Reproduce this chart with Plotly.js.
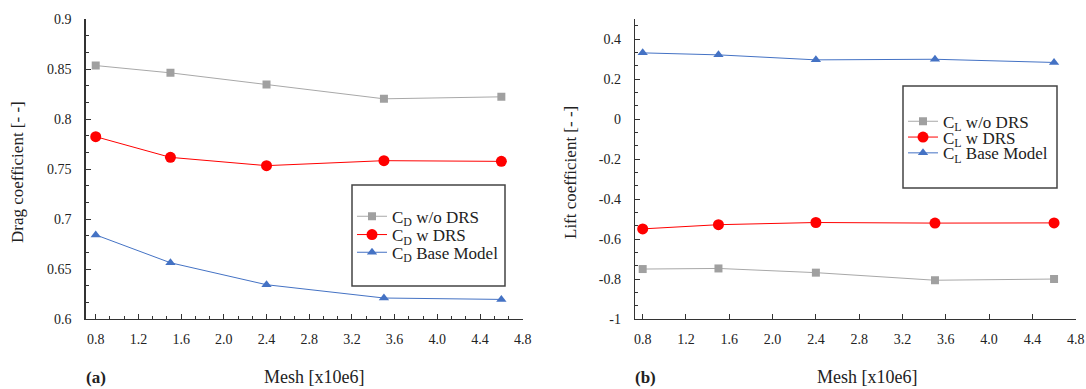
<!DOCTYPE html>
<html>
<head>
<meta charset="utf-8">
<script src="https://cdn.plot.ly/plotly-3.0.1.min.js"></script>
<style>html,body{margin:0;padding:0;background:#fff;}#chart{width:1086px;height:389px;}</style>
</head>
<body>
<div id="chart"></div>
<script>
// ---- data ----
const meshX = [0.8, 1.5, 2.4, 3.5, 4.6];
const cdWithoutDRS = [0.8537, 0.8464, 0.8347, 0.8204, 0.8224];
const cdWithDRS    = [0.7825, 0.7618, 0.7535, 0.7585, 0.7578];
const cdBaseModel  = [0.6842, 0.6563, 0.6343, 0.6210, 0.6196];
const clWithoutDRS = [-0.750, -0.747, -0.768, -0.806, -0.800];
const clWithDRS    = [-0.549, -0.528, -0.517, -0.520, -0.519];
const clBaseModel  = [0.332, 0.322, 0.297, 0.300, 0.284];

const xTickVals = [0.8, 1.2, 1.6, 2.0, 2.4, 2.8, 3.2, 3.6, 4.0, 4.4, 4.8];
const xTickText = ['0.8','1.2','1.6','2.0','2.4','2.8','3.2','3.6','4.0','4.4','4.8'];
const cdTickVals = [0.6, 0.65, 0.7, 0.75, 0.8, 0.85, 0.9];
const cdTickText = ['0.6','0.65','0.7','0.75','0.8','0.85','0.9'];
const clTickVals = [-1, -0.8, -0.6, -0.4, -0.2, 0, 0.2, 0.4];
const clTickText = ['-1','-0.8','-0.6','-0.4','-0.2','0','0.2','0.4'];

const labelsLeft = ['C<sub>D</sub> w/o DRS', 'C<sub>D</sub> w DRS', 'C<sub>D</sub> Base Model'];
const labelsRight = ['C<sub>L</sub> w/o DRS', 'C<sub>L</sub> w DRS', 'C<sub>L</sub> Base Model'];

// ---- styles ----
const W = 1086, H = 389;
const px = v => v / W;
const py = v => 1 - v / H;
const FONT = "'Liberation Serif', 'Times New Roman', serif";
const TXT = '#222';
const styles = [
  {line: {color: '#a8a8a8', width: 1}, marker: {symbol: 'square', size: 8, color: '#a0a0a0'}},
  {line: {color: '#ff0000', width: 1}, marker: {symbol: 'circle', size: 11, color: '#ff0000'}},
  {line: {color: '#4472c4', width: 1}, marker: {symbol: 'triangle-up', size: 9, color: '#4472c4'}}
];

const leftSeries = [cdWithoutDRS, cdWithDRS, cdBaseModel];
const rightSeries = [clWithoutDRS, clWithDRS, clBaseModel];
const leftLegends = ['legend', 'legend3', 'legend4'];
const rightLegends = ['legend2', 'legend5', 'legend6'];
const traces = [];
leftSeries.forEach((ys, i) => traces.push({
  x: meshX, y: ys, name: labelsLeft[i], type: 'scatter', mode: 'lines+markers', showlegend: true,
  xaxis: 'x', yaxis: 'y', legend: leftLegends[i], line: styles[i].line, marker: styles[i].marker
}));
rightSeries.forEach((ys, i) => traces.push({
  x: meshX, y: ys, name: labelsRight[i], type: 'scatter', mode: 'lines+markers', showlegend: true,
  xaxis: 'x2', yaxis: 'y2', legend: rightLegends[i], line: styles[i].line, marker: styles[i].marker
}));

const axisCommon = {
  showgrid: false, zeroline: false, showline: true, linecolor: '#333', linewidth: 1.3,
  ticks: 'inside', ticklen: 5, tickcolor: '#333', tickwidth: 1,
  tickfont: {family: FONT, size: 14, color: TXT}, tickmode: 'array', automargin: false
};

function legendAt(x, y) {
  return {
    x: px(x), y: py(y), xanchor: 'left', yanchor: 'middle',
    bgcolor: 'rgba(0,0,0,0)', borderwidth: 0,
    font: {family: FONT, size: 17, color: TXT}
  };
}

const layout = {
  width: W, height: H,
  margin: {l: 0, r: 0, t: 0, b: 0},
  paper_bgcolor: '#fff', plot_bgcolor: '#fff',
  font: {family: FONT, color: TXT},
  showlegend: true,
  xaxis: Object.assign({}, axisCommon, {
    domain: [px(85.7), px(522.7)], range: [0.706, 4.8], anchor: 'y',
    tickvals: xTickVals, ticktext: xTickText, ticklabelstandoff: 7,
    minor: {tickmode: 'linear', tick0: 0.8, dtick: 0.4/3, ticks: 'inside', ticklen: 3, tickcolor: '#333'}
  }),
  yaxis: Object.assign({}, axisCommon, {
    domain: [py(319), py(19.3)], range: [0.6, 0.9], anchor: 'x',
    tickvals: cdTickVals, ticktext: cdTickText, ticklabelstandoff: 10,
    minor: {tickmode: 'linear', tick0: 0.6, dtick: 0.05/3, ticks: 'inside', ticklen: 3, tickcolor: '#333'}
  }),
  xaxis2: Object.assign({}, axisCommon, {
    domain: [px(635), px(1075.7)], range: [0.729, 4.8], anchor: 'y2',
    tickvals: xTickVals, ticktext: xTickText, ticklabelstandoff: 7
  }),
  yaxis2: Object.assign({}, axisCommon, {
    domain: [py(319), py(19.3)], range: [-1, 0.5], anchor: 'x2',
    tickvals: clTickVals, ticktext: clTickText, ticklabelstandoff: 10,
    minor: {tickmode: 'linear', tick0: -1, dtick: 0.2/3, ticks: 'inside', ticklen: 3, tickcolor: '#333'}
  }),
  legend: legendAt(352, 216.7),
  legend3: legendAt(352, 235),
  legend4: legendAt(352, 252.7),
  legend2: legendAt(903, 121.7),
  legend5: legendAt(903, 137.5),
  legend6: legendAt(903, 153.3),
  shapes: [
    {type: 'rect', xref: 'paper', yref: 'paper', x0: px(352), x1: px(505), y0: py(286), y1: py(185),
     line: {color: '#444', width: 1.5}, fillcolor: 'rgba(0,0,0,0)', layer: 'below'},
    {type: 'rect', xref: 'paper', yref: 'paper', x0: px(903), x1: px(1057), y0: py(188), y1: py(86),
     line: {color: '#444', width: 1.5}, fillcolor: 'rgba(0,0,0,0)', layer: 'below'}
  ],
  annotations: [
    {text: 'Drag coefficient [- -]', xref: 'paper', yref: 'paper', x: px(18), y: py(172), textangle: -90,
     showarrow: false, font: {family: FONT, size: 17, color: TXT}, xanchor: 'center', yanchor: 'middle'},
    {text: 'Lift coefficient [- -]', xref: 'paper', yref: 'paper', x: px(570), y: py(173), textangle: -90,
     showarrow: false, font: {family: FONT, size: 17, color: TXT}, xanchor: 'center', yanchor: 'middle'},
    {text: 'Mesh [x10e6]', xref: 'paper', yref: 'paper', x: px(314), y: py(377),
     showarrow: false, font: {family: FONT, size: 18, color: TXT}, xanchor: 'center', yanchor: 'middle'},
    {text: 'Mesh [x10e6]', xref: 'paper', yref: 'paper', x: px(867), y: py(377),
     showarrow: false, font: {family: FONT, size: 18, color: TXT}, xanchor: 'center', yanchor: 'middle'},
    {text: '<b>(a)</b>', xref: 'paper', yref: 'paper', x: px(96), y: py(377),
     showarrow: false, font: {family: FONT, size: 17, color: TXT}, xanchor: 'center', yanchor: 'middle'},
    {text: '<b>(b)</b>', xref: 'paper', yref: 'paper', x: px(645), y: py(377),
     showarrow: false, font: {family: FONT, size: 17, color: TXT}, xanchor: 'center', yanchor: 'middle'}
  ]
};

Plotly.newPlot('chart', traces, layout, {staticPlot: true, displayModeBar: false});
</script>
</body>
</html>
